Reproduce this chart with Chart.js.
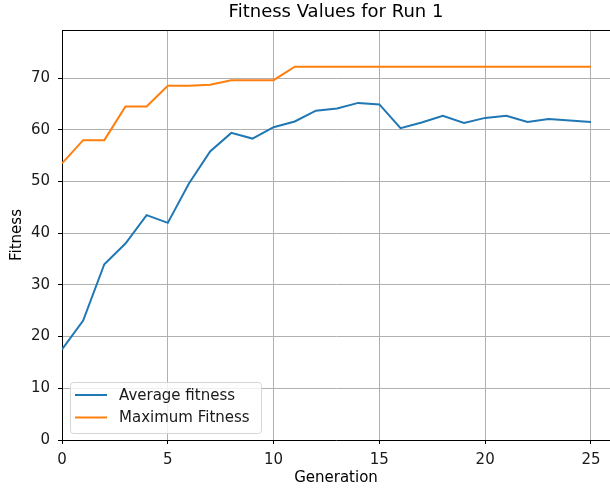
<!DOCTYPE html>
<html>
<head>
<meta charset="utf-8">
<script src="https://cdn.jsdelivr.net/npm/chart.js@4/dist/chart.umd.min.js"></script>
<style>
    html, body { margin: 0; padding: 0; background: #fff; }
    #wrap { width: 610px; height: 489px; position: relative; }
</style>
</head>
<body>
<div id="wrap"><canvas id="myChart"></canvas></div>
<script>
const generations = [0, 1, 2, 3, 4, 5, 6, 7, 8, 9, 10, 11, 12, 13, 14, 15, 16, 17, 18, 19, 20, 21, 22, 23, 24, 25];
const averageFitness = [17.5, 23.1, 34.0, 38.0, 43.5, 42.0, 49.6, 55.8, 59.4, 58.3, 60.5, 61.6, 63.7, 64.1, 65.2, 64.9,
    60.3, 61.4, 62.7, 61.3, 62.3, 62.7, 61.5, 62.1, 61.8, 61.5];
const maximumFitness = [53.5, 58.0, 58.0, 64.5, 64.5, 68.5, 68.5, 68.7, 69.6, 69.6, 69.6, 72.2, 72.2, 72.2, 72.2, 72.2,
    72.2, 72.2, 72.2, 72.2, 72.2, 72.2, 72.2, 72.2, 72.2, 72.2];
const xTicks = [0, 5, 10, 15, 20, 25];
const yTicks = [0, 10, 20, 30, 40, 50, 60, 70];

const FONT = 'DejaVu Sans';

// top spine + legend box drawn inside the plot area
const framePlugin = {
    id: 'frame',
    afterDraw(chart) {
        const { ctx, chartArea } = chart;
        ctx.save();
        ctx.strokeStyle = '#000';
        ctx.lineWidth = 1;
        ctx.beginPath();
        ctx.moveTo(chartArea.left, chartArea.top + 0.5);
        ctx.lineTo(chartArea.right, chartArea.top + 0.5);
        ctx.stroke();

        const x0 = chartArea.left + 8, y0 = chartArea.bottom - 58;
        const w = 191, h = 51;
        ctx.fillStyle = 'rgba(255,255,255,0.8)';
        ctx.strokeStyle = '#d6d6d6';
        ctx.lineWidth = 1;
        ctx.beginPath();
        ctx.roundRect(x0 + 0.5, y0 + 0.5, w, h, 3);
        ctx.fill();
        ctx.stroke();

        ctx.font = '15px ' + FONT;
        ctx.textBaseline = 'middle';
        chart.data.datasets.forEach((ds, i) => {
            const y = y0 + 13 + i * 22.5;
            ctx.strokeStyle = ds.borderColor;
            ctx.lineWidth = 2;
            ctx.beginPath();
            ctx.moveTo(x0 + 5, y);
            ctx.lineTo(x0 + 37, y);
            ctx.stroke();
            ctx.fillStyle = '#1a1a1a';
            ctx.fillText(ds.label, x0 + 49, y + 1);
        });
        ctx.restore();
    }
};

class GraficoFitness
{
    constructor(gens, avg, max)
    {
        this.gens = gens;
        this.avg = avg;
        this.max = max;
    }

    pontos(values)
    {
        return this.gens.map((g, i) => ({ x: g, y: values[i] }));
    }

    init()
    {
        const ctx = document.querySelector('#myChart');
        new Chart(ctx, {
            type: 'line',
            data: {
                datasets: [{
                    label: 'Average fitness',
                    data: this.pontos(this.avg),
                    borderColor: '#1f77b4',
                    borderWidth: 2,
                    pointRadius: 0,
                    tension: 0
                }, {
                    label: 'Maximum Fitness',
                    data: this.pontos(this.max),
                    borderColor: '#ff7f0e',
                    borderWidth: 2,
                    pointRadius: 0,
                    tension: 0
                }]
            },
            options: {
                responsive: true,
                maintainAspectRatio: false,
                animation: false,
                layout: { padding: 0 },
                plugins: {
                    legend: { display: false },
                    tooltip: { enabled: false },
                    title: {
                        display: true,
                        fullSize: false,
                        text: 'Fitness Values for Run 1',
                        color: '#000',
                        font: { family: FONT, size: 18, weight: 'normal' },
                        padding: { top: 2, bottom: 6.4 }
                    }
                },
                scales: {
                    x: {
                        type: 'linear',
                        min: 0,
                        max: 25.9,
                        afterBuildTicks: axis => { axis.ticks = xTicks.map(v => ({ value: v })); },
                        afterFit: axis => { axis.height = 49; },
                        ticks: { color: '#1a1a1a', font: { family: FONT, size: 15 }, padding: 7, maxRotation: 0 },
                        grid: { color: '#b0b0b0', lineWidth: 1, tickColor: '#000', tickLength: 4 },
                        border: { color: '#000', width: 1 },
                        title: {
                            display: true, text: 'Generation', color: '#000',
                            font: { family: FONT, size: 15 }, padding: { top: 0, bottom: 2 }
                        }
                    },
                    y: {
                        min: 0,
                        max: 79.3,
                        afterBuildTicks: axis => { axis.ticks = yTicks.map(v => ({ value: v })); },
                        afterFit: axis => { axis.width = 62; },
                        ticks: { color: '#1a1a1a', font: { family: FONT, size: 15 }, padding: 8 },
                        grid: { color: '#b0b0b0', lineWidth: 1, tickColor: '#000', tickLength: 4 },
                        border: { color: '#000', width: 1 },
                        title: {
                            display: true, text: 'Fitness', color: '#000',
                            font: { family: FONT, size: 15 }, padding: { top: 8, bottom: 0 }
                        }
                    }
                }
            },
            plugins: [framePlugin]
        });
    }
}

new GraficoFitness(generations, averageFitness, maximumFitness).init();
</script>
</body>
</html>
